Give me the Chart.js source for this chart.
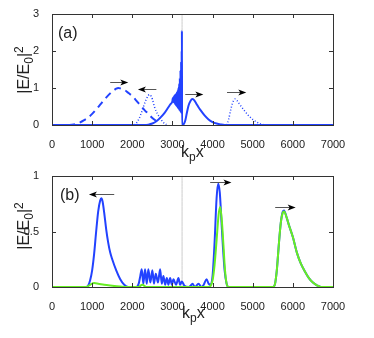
<!DOCTYPE html>
<html>
<head>
<meta charset="utf-8">
<script src="https://cdn.jsdelivr.net/npm/chart.js@4"></script>
<style>
  body { margin: 0; background: #fff; font-family: "Liberation Sans", Arial, sans-serif; }
  #wrap { position: relative; width: 374px; height: 338px; overflow: hidden; }
  canvas { position: absolute; left: 0; }
  .lab { position: absolute; font-size: 16px; color: #222; white-space: nowrap; line-height: 1; }
  .lab sub, .lab sup { font-size: 12px; }
  .ylab { transform: translate(-50%, -50%) rotate(-90deg); }
</style>
</head>
<body>
<div id="wrap">
  <canvas id="chartA" width="374" height="160" style="top:0"></canvas>
  <canvas id="chartB" width="374" height="178" style="top:160px"></canvas>
  <div class="lab ylab" style="left:24px;top:70px">|E/E<sub>0</sub>|<sup>2</sup></div>
  <div class="lab ylab" style="left:24px;top:226px">|E/E<sub>0</sub>|<sup>2</sup></div>
  <div class="lab" style="left:181px;top:144px">k<sub>p</sub>x</div>
  <div class="lab" style="left:182px;top:305px">k<sub>p</sub>x</div>
  <div class="lab" style="left:58px;top:25px">(a)</div>
  <div class="lab" style="left:60px;top:187px">(b)</div>
</div>
<script>
// tick labels
let xTicks = [0, 1000, 2000, 3000, 4000, 5000, 6000, 7000];
let yTicksA = [0, 1, 2, 3];
let yTicksB = [0, 0.5, 1];

// position of the thin grey marker line
let markX = 3240;

// panel (a): dashed pulse
let dashX = [400, 500, 600, 700, 800, 900, 1000, 1100, 1200, 1300, 1400, 1500, 1600, 1650, 1700, 1800, 1900, 2000, 2100, 2200, 2300, 2400, 2500, 2600, 2650];
let dashY = [0, 0.01, 0.03, 0.07, 0.13, 0.2, 0.3, 0.42, 0.55, 0.68, 0.8, 0.9, 0.98, 1.0, 0.99, 0.95, 0.87, 0.78, 0.66, 0.53, 0.41, 0.3, 0.19, 0.1, 0.05];

// panel (a): dotted pulse moving left
let dotLX = [2050, 2100, 2150, 2200, 2250, 2300, 2350, 2400, 2430, 2470, 2500, 2550, 2600, 2650, 2700, 2750, 2800, 2850];
let dotLY = [0, 0.05, 0.13, 0.25, 0.4, 0.56, 0.7, 0.8, 0.82, 0.78, 0.7, 0.5, 0.36, 0.26, 0.18, 0.1, 0.04, 0.01];

// panel (a): solid curve (rise, fast oscillation, spike, transmitted pulse)
let solidX = [0, 2300, 2400, 2500, 2600, 2700, 2800, 2900, 2950, 3000,
  3008, 3016, 3024, 3032, 3040, 3048, 3056, 3064, 3072, 3080, 3088, 3096, 3104, 3112, 3120,
  3128, 3136, 3144, 3152, 3160, 3168, 3176, 3184, 3192, 3200, 3208, 3216, 3224, 3230, 3234, 3236,
  3240, 3280, 3320, 3360, 3400, 3450, 3500, 3550, 3600, 3650, 3700, 3800, 3900, 4000, 4100, 4200, 4300, 7000];
let solidY = [0, 0, 0.01, 0.04, 0.1, 0.2, 0.32, 0.48, 0.56, 0.65,
  0.72, 0.64, 0.75, 0.62, 0.78, 0.6, 0.8, 0.57, 0.82, 0.54, 0.84, 0.52, 0.87, 0.5, 0.9,
  0.47, 0.95, 0.45, 1.02, 0.42, 1.12, 0.4, 1.27, 0.37, 1.48, 0.35, 1.72, 0.32, 2.0, 0.3, 2.55,
  0, 0.02, 0.12, 0.33, 0.52, 0.65, 0.7, 0.66, 0.57, 0.48, 0.4, 0.26, 0.15, 0.08, 0.04, 0.015, 0, 0];

// panel (a): dotted pulse moving right
let dotRX = [4350, 4400, 4450, 4500, 4560, 4600, 4700, 4800, 4900, 5000, 5100, 5200, 5300];
let dotRY = [0, 0.15, 0.4, 0.6, 0.7, 0.67, 0.52, 0.38, 0.25, 0.15, 0.08, 0.03, 0];

// panel (b): blue curve
let blueX = [0, 850, 900, 950, 1000, 1050, 1100, 1150, 1200, 1230, 1260, 1300, 1350, 1400, 1450, 1500, 1600, 1700, 1800, 1900,
  2100, 2160, 2200, 2235, 2275, 2318, 2360, 2400, 2450, 2500, 2540, 2585, 2640, 2693, 2735, 2775, 2820, 2860, 2900, 2943,
  2985, 3025, 3090, 3150, 3190, 3235, 3300, 3400, 3450, 3500, 3560, 3650, 3720, 3780, 3850, 3900,
  3950, 4000, 4050, 4100, 4140, 4180, 4220, 4260, 4300, 4350, 4400,
  5500, 5550, 5600, 5650, 5700, 5750, 5780, 5850, 5900, 6000, 6100, 6200, 6300, 6400, 6500, 6600, 6700, 7000];
let blueY = [0, 0, 0.01, 0.06, 0.15, 0.3, 0.5, 0.68, 0.78, 0.8, 0.77, 0.67, 0.52, 0.4, 0.31, 0.25, 0.15, 0.07, 0.02, 0,
  0, 0.03, 0.1, 0.16, 0.03, 0.16, 0.03, 0.16, 0.04, 0.15, 0.03, 0.12, 0.04, 0.16, 0.03, 0.1, 0.02, 0.08, 0.02, 0.08,
  0.02, 0.07, 0.02, 0.08, 0.02, 0.05, 0.01, 0, 0.01, 0.03, 0, 0.03, 0, 0.02, 0.07, 0.03,
  0.02, 0.1, 0.4, 0.8, 0.93, 0.85, 0.6, 0.35, 0.15, 0.03, 0,
  0, 0.02, 0.15, 0.38, 0.58, 0.68, 0.69, 0.62, 0.56, 0.45, 0.31, 0.21, 0.14, 0.08, 0.04, 0.015, 0, 0];

// panel (b): green curve
let greenX = [0, 850, 950, 1050, 1150, 1300, 1500, 1700, 1900, 2150, 2250, 2350,
  3900, 3950, 4000, 4050, 4100, 4150, 4190, 4230, 4270, 4310, 4350, 4400,
  5500, 5550, 5600, 5650, 5700, 5750, 5780, 5850, 5900, 6000, 6100, 6200, 6300, 6400, 6500, 6600, 6700, 7000];
let greenY = [0, 0, 0.02, 0.035, 0.03, 0.02, 0.012, 0.005, 0, 0, 0.02, 0,
  0, 0.01, 0.06, 0.2, 0.42, 0.65, 0.72, 0.6, 0.38, 0.15, 0.03, 0,
  0, 0.02, 0.15, 0.38, 0.58, 0.67, 0.68, 0.62, 0.56, 0.45, 0.31, 0.21, 0.14, 0.08, 0.04, 0.015, 0, 0];

// propagation arrows (data coords): tail -> head
let arrowsA = [
  { from: 1450, to: 1900, y: 1.16 },
  { from: 2600, to: 2140, y: 0.96 },
  { from: 3320, to: 3770, y: 0.83 },
  { from: 4360, to: 4840, y: 0.89 }
];
let arrowsB = [
  { from: 1550, to: 920, y: 0.84 },
  { from: 3940, to: 4470, y: 0.95 },
  { from: 5560, to: 6070, y: 0.72 }
];

let blue = "#2242ff";
let green = "#66ee22";

function pts(xs, ys) {
  let out = [];
  for (let i = 0; i < xs.length; i++) out.push({ x: xs[i], y: ys[i] });
  return out;
}

function line(data, color, width, dash, order) {
  return {
    data: data,
    borderColor: color,
    borderWidth: width,
    borderDash: dash || [],
    pointRadius: 0,
    fill: false,
    cubicInterpolationMode: "monotone",
    order: order
  };
}

// box round the plot, inward ticks, arrows
let framePlugin = {
  id: "frame",
  afterDatasetsDraw(chart) {
    let ctx = chart.ctx;
    let a = chart.chartArea;
    let xs = chart.scales.x;
    let ys = chart.scales.y;
    ctx.save();
    ctx.strokeStyle = "#333";
    ctx.lineWidth = 1;
    ctx.strokeRect(Math.round(a.left) + 0.5, Math.round(a.top) + 0.5, Math.round(a.right - a.left), Math.round(a.bottom - a.top));
    ctx.beginPath();
    xs.ticks.forEach(t => {
      let p = Math.round(xs.getPixelForValue(t.value)) + 0.5;
      ctx.moveTo(p, a.bottom); ctx.lineTo(p, a.bottom - 4);
      ctx.moveTo(p, a.top); ctx.lineTo(p, a.top + 4);
    });
    ys.ticks.forEach(t => {
      let p = Math.round(ys.getPixelForValue(t.value)) + 0.5;
      ctx.moveTo(a.left, p); ctx.lineTo(a.left + 4, p);
      ctx.moveTo(a.right, p); ctx.lineTo(a.right - 4, p);
    });
    ctx.stroke();

    let arrows = chart.options.plugins.frame.arrows;
    arrows.forEach(ar => {
      let x0 = xs.getPixelForValue(ar.from);
      let x1 = xs.getPixelForValue(ar.to);
      let y = Math.round(ys.getPixelForValue(ar.y)) + 0.5;
      let dir = x1 > x0 ? 1 : -1;
      ctx.strokeStyle = "#555";
      ctx.lineWidth = 1;
      ctx.beginPath();
      ctx.moveTo(x0, y);
      ctx.lineTo(x1 - dir * 5, y);
      ctx.stroke();
      ctx.fillStyle = "#000";
      ctx.beginPath();
      ctx.moveTo(x1, y);
      ctx.lineTo(x1 - dir * 8, y - 3);
      ctx.lineTo(x1 - dir * 6, y);
      ctx.lineTo(x1 - dir * 8, y + 3);
      ctx.closePath();
      ctx.fill();
    });
    ctx.restore();
  }
};

function makeChart(id, datasets, yTicks, yMax, pad, xH, arrows) {
  return new Chart(document.getElementById(id), {
    type: "line",
    data: { datasets: datasets },
    plugins: [framePlugin],
    options: {
      responsive: false,
      animation: false,
      devicePixelRatio: 1,
      layout: { padding: pad },
      plugins: { legend: { display: false }, tooltip: { enabled: false }, frame: { arrows: arrows } },
      scales: {
        x: {
          type: "linear", min: 0, max: 7000,
          afterBuildTicks: s => { s.ticks = xTicks.map(v => ({ value: v })); },
          afterFit: s => { s.height = xH; },
          grid: { display: false },
          border: { display: false },
          ticks: { font: { size: 11, family: "Liberation Sans" }, color: "#222", padding: 5, maxRotation: 0, autoSkip: false, callback: v => String(v) }
        },
        y: {
          type: "linear", min: 0, max: yMax,
          afterBuildTicks: s => { s.ticks = yTicks.map(v => ({ value: v })); },
          afterFit: s => { s.width = 52; },
          grid: { display: false },
          border: { display: false },
          ticks: { font: { size: 11, family: "Liberation Sans" }, color: "#222", padding: 5, callback: v => String(v) }
        }
      }
    }
  });
}

makeChart("chartA", [
  line(pts(solidX, solidY), blue, 2, null, 1),
  line(pts(dashX, dashY), blue, 2, [7, 5], 2),
  line(pts(dotLX, dotLY), blue, 1.5, [1, 2], 3),
  line(pts(dotRX, dotRY), blue, 1.5, [1, 2], 4),
  line([{ x: markX, y: 0 }, { x: markX, y: 3 }], "#cccccc", 1, null, 10)
], yTicksA, 3, { top: 14, right: 41, left: 0, bottom: 0 }, 35, arrowsA);

makeChart("chartB", [
  line(pts(greenX, greenY), green, 2, null, 1),
  line(pts(blueX, blueY), blue, 2, null, 2),
  line([{ x: markX, y: 0 }, { x: markX, y: 1 }], "#cccccc", 1, null, 10)
], yTicksB, 1, { top: 16, right: 41, left: 0, bottom: 0 }, 51, arrowsB);
</script>
</body>
</html>
